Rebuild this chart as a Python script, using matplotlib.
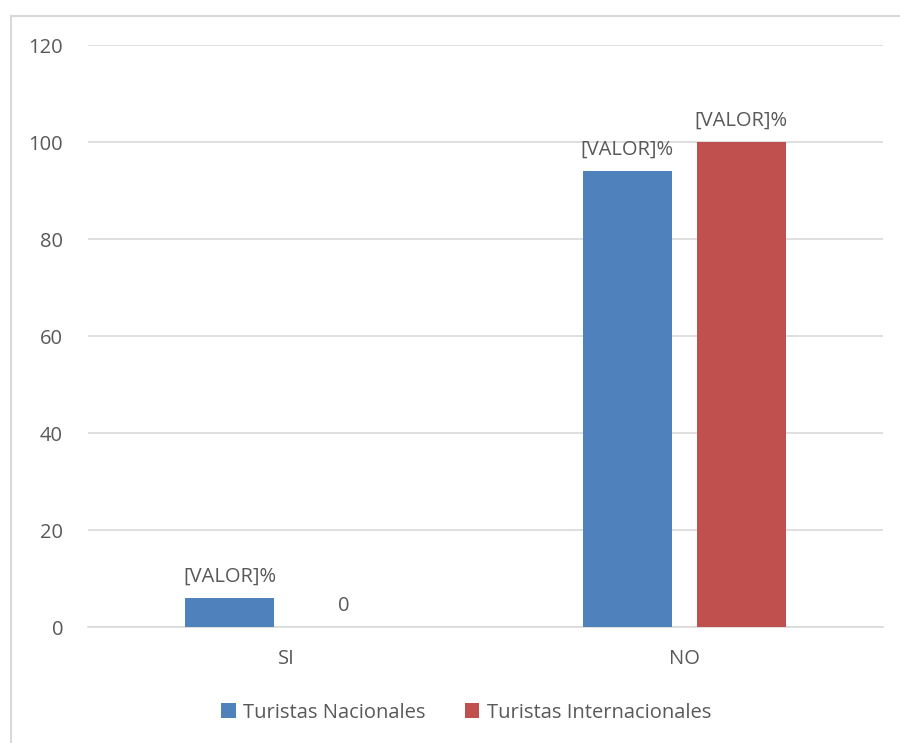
import numpy as np
import matplotlib
matplotlib.use("Agg")
import matplotlib.pyplot as plt
from matplotlib.lines import Line2D

categorias = ["SI", "NO"]
nacionales = [6, 94]
internacionales = [0, 100]
etiquetas_nac = ["[VALOR]%", "[VALOR]%"]
etiquetas_int = ["0", "[VALOR]%"]
series = ["Turistas Nacionales", "Turistas Internacionales"]
colores = ["#4F81BD", "#C0504D"]
yticks = [0, 20, 40, 60, 80, 100, 120]

plt.rcParams["font.family"] = ["Open Sans", "DejaVu Sans"]
texto = "#595959"
fs = 14.5

fig = plt.figure(figsize=(9, 7.43), dpi=100)
ax = fig.add_axes([0.0978, 0.1561, 0.8832, 0.7833])

x = np.arange(len(categorias))
ancho = 0.224
sep = 0.143
b1 = ax.bar(x - sep, nacionales, ancho, color=colores[0], label=series[0], zorder=3)
b2 = ax.bar(x + sep, internacionales, ancho, color=colores[1], label=series[1], zorder=3)

ax.bar_label(b1, labels=etiquetas_nac, padding=8, fontsize=fs, color=texto)
ax.bar_label(b2, labels=etiquetas_int, padding=8, fontsize=fs, color=texto)

ax.set_xlim(-0.5, 1.5)
ax.set_ylim(0, 120)
ax.set_yticks(yticks)
ax.set_xticks(x)
ax.set_xticklabels(categorias)
ax.tick_params(axis="both", length=0, labelsize=fs, labelcolor=texto)
ax.tick_params(axis="y", pad=18)
ax.tick_params(axis="x", pad=16)
ax.grid(axis="y", color="#D9D9D9", linewidth=1.2, zorder=0)
for s in ["top", "right", "left"]:
    ax.spines[s].set_visible(False)
ax.spines["bottom"].set_color("#D9D9D9")
ax.spines["bottom"].set_linewidth(1.2)

fig.legend(loc="center", bbox_to_anchor=(0.518, 0.041), ncol=2, frameon=False,
           fontsize=fs, labelcolor=texto, handlelength=0.7, handleheight=0.7,
           handletextpad=0.35, columnspacing=2.0)

# marco del gráfico (solo se ven los bordes izquierdo y superior)
fig.add_artist(Line2D([10.5 / 900, 10.5 / 900], [0, 1 - 16 / 743], color="#D9D9D9", linewidth=1.5))
fig.add_artist(Line2D([10.5 / 900, 1], [1 - 16 / 743, 1 - 16 / 743], color="#D9D9D9", linewidth=1.5))

fig.savefig("out.png", dpi=100)
